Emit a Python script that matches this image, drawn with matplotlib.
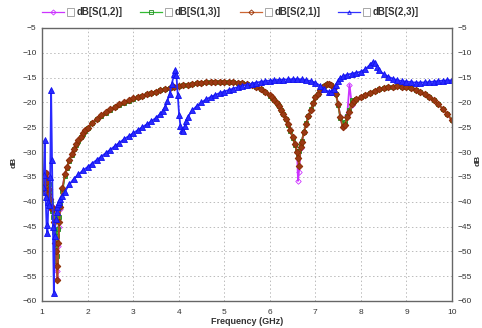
import matplotlib.pyplot as plt
from matplotlib.lines import Line2D
from matplotlib.patches import Rectangle

plt.rcParams["font.family"] = ["Liberation Sans", "DejaVu Sans"]

# sweep points shared by S(1,2), S(1,3) and S(2,1)
freq_ghz = [
    1.00, 1.02, 1.04, 1.06, 1.08, 1.10, 1.12, 1.14, 1.16, 1.18, 1.20,
    1.22, 1.24, 1.26, 1.28, 1.30, 1.32, 1.34, 1.36, 1.38, 1.40,
    1.45, 1.50, 1.55, 1.60, 1.65, 1.70, 1.75, 1.80, 1.85, 1.90, 1.95,
    2.0, 2.1, 2.2, 2.3, 2.4, 2.5, 2.6, 2.7, 2.8, 2.9, 3.0,
    3.1, 3.2, 3.3, 3.4, 3.5, 3.6, 3.7, 3.8, 3.9, 4.0,
    4.1, 4.2, 4.3, 4.4, 4.5, 4.6, 4.7, 4.8, 4.9, 5.0,
    5.1, 5.2, 5.3, 5.4, 5.5, 5.6, 5.7, 5.8, 5.9, 6.0,
    6.05, 6.10, 6.15, 6.20, 6.25, 6.30, 6.35, 6.40, 6.45, 6.50, 6.55, 6.60,
    6.62, 6.64, 6.68,
    6.70, 6.75, 6.80, 6.85, 6.90, 6.95, 7.00, 7.05, 7.10, 7.15, 7.20, 7.25,
    7.30, 7.35, 7.40, 7.45, 7.50, 7.55, 7.60, 7.65, 7.70, 7.75, 7.80, 7.85, 7.90,
    8.0, 8.1, 8.2, 8.3, 8.4, 8.5, 8.6, 8.7, 8.8, 8.9, 9.0,
    9.1, 9.2, 9.3, 9.4, 9.5, 9.6, 9.7, 9.8, 9.9, 10.0,
]

s12_db = [
    -37.0, -36.5, -35.5, -34.6, -35.0, -34.2, -38.0, -37.5, -38.8, -40.5, -41.5,
    -40.8, -42.0, -45.5, -47.5, -51.0, -54.0, -55.5, -49.0, -45.0, -41.5,
    -37.3, -34.5, -33.0, -31.6, -30.4, -29.3, -28.4, -27.6, -26.9, -26.2, -25.6,
    -25.1, -24.1, -23.3, -22.6, -22.0, -21.4, -20.9, -20.4, -20.0, -19.6, -19.2,
    -18.9, -18.6, -18.3, -18.0, -17.8, -17.5, -17.3, -17.1, -16.9, -16.7,
    -16.5, -16.4, -16.2, -16.1, -16.0, -15.9, -15.85, -15.8, -15.8, -15.8,
    -15.85, -15.9, -16.0, -16.1, -16.3, -16.5, -16.8, -17.2, -17.8, -18.5,
    -19.0, -19.5, -20.1, -20.7, -21.5, -22.3, -23.3, -24.4, -25.6, -27.0, -28.4, -30.0,
    -35.8, -34.0, -29.2,
    -28.0, -26.0, -24.3, -22.8, -21.5, -20.2, -19.0, -18.2, -17.5, -17.0, -16.6, -16.3,
    -16.2, -16.4, -17.0, -18.2, -20.3, -23.0, -25.0, -24.5, -22.5, -16.4, -20.5, -19.8, -19.4,
    -18.9, -18.4, -18.0, -17.6, -17.3, -17.1, -16.9, -16.8, -16.75, -16.8, -16.9,
    -17.1, -17.4, -17.8, -18.3, -18.9, -19.6, -20.4, -21.3, -22.4, -23.6,
]

s13_db = [
    -37.5, -36.0, -37.0, -36.2, -37.5, -38.5, -37.0, -39.0, -36.5, -38.0, -40.0,
    -41.8, -43.0, -46.0, -49.0, -52.0, -51.0, -47.0, -45.5, -43.0, -40.5,
    -37.8, -34.9, -33.2, -31.8, -30.5, -29.4, -28.5, -27.7, -27.0, -26.3, -25.7,
    -25.2, -24.2, -23.4, -22.7, -22.1, -21.5, -21.0, -20.5, -20.1, -19.7, -19.3,
    -18.9, -18.6, -18.3, -18.0, -17.8, -17.5, -17.3, -17.1, -16.9, -16.7,
    -16.5, -16.4, -16.2, -16.1, -16.0, -15.9, -15.85, -15.8, -15.8, -15.8,
    -15.85, -15.9, -16.0, -16.1, -16.3, -16.5, -16.8, -17.2, -17.8, -18.6,
    -19.1, -19.6, -20.2, -20.8, -21.6, -22.4, -23.4, -24.5, -25.7, -27.1, -28.5, -29.8,
    -30.3, -29.8, -28.6,
    -27.8, -25.9, -24.2, -22.7, -21.4, -20.1, -19.0, -18.2, -17.5, -17.0, -16.6, -16.3,
    -16.2, -16.4, -17.0, -18.3, -20.5, -23.2, -24.2, -24.0, -22.8, -21.5, -19.6, -19.7, -19.4,
    -18.9, -18.4, -18.0, -17.6, -17.3, -17.1, -16.9, -16.8, -16.75, -16.8, -16.9,
    -17.1, -17.4, -17.8, -18.3, -18.9, -19.6, -20.4, -21.3, -22.4, -23.5,
]

s21_db = [
    -36.8, -37.2, -36.5, -35.0, -34.3, -36.0, -37.8, -38.5, -37.5, -39.5, -41.2,
    -41.0, -41.5, -44.0, -48.3, -50.0, -53.0, -55.8, -48.3, -44.0, -41.0,
    -37.3, -34.5, -33.0, -31.6, -30.4, -29.3, -28.4, -27.6, -26.9, -26.2, -25.6,
    -25.1, -24.1, -23.3, -22.6, -22.0, -21.4, -20.9, -20.4, -20.0, -19.6, -19.2,
    -18.9, -18.6, -18.3, -18.0, -17.8, -17.5, -17.3, -17.1, -16.9, -16.7,
    -16.5, -16.4, -16.2, -16.1, -16.0, -15.9, -15.85, -15.8, -15.8, -15.8,
    -15.85, -15.9, -16.0, -16.1, -16.3, -16.5, -16.8, -17.2, -17.8, -18.5,
    -19.0, -19.5, -20.1, -20.7, -21.5, -22.3, -23.3, -24.4, -25.6, -27.0, -28.4, -30.0,
    -31.2, -32.8, -29.0,
    -28.0, -26.0, -24.3, -22.8, -21.5, -20.2, -19.0, -18.2, -17.5, -17.0, -16.6, -16.3,
    -16.2, -16.4, -17.0, -18.2, -20.3, -23.0, -25.0, -24.5, -23.0, -22.0, -20.3, -19.8, -19.4,
    -18.9, -18.4, -18.0, -17.6, -17.3, -17.1, -16.9, -16.8, -16.75, -16.8, -16.9,
    -17.1, -17.4, -17.8, -18.3, -18.9, -19.6, -20.4, -21.3, -22.4, -23.6,
]

# S(2,3) has its own sweep (resonance near 3.9 GHz)
freq_s23_ghz = [
    1.00, 1.02, 1.04, 1.06, 1.08, 1.10, 1.12, 1.14, 1.16, 1.18, 1.20,
    1.22, 1.24, 1.26, 1.28, 1.30, 1.32, 1.34, 1.36, 1.38, 1.40,
    1.45, 1.5, 1.6, 1.7, 1.8, 1.9, 2.0, 2.1, 2.2, 2.3, 2.4, 2.5,
    2.6, 2.7, 2.8, 2.9, 3.0, 3.1, 3.2, 3.3, 3.4, 3.5, 3.6,
    3.65, 3.70, 3.75, 3.80, 3.85, 3.90, 3.92, 3.95, 3.98, 4.01, 4.04,
    4.07, 4.10, 4.13, 4.16, 4.2, 4.3, 4.4, 4.5, 4.6, 4.7, 4.8, 4.9, 5.0,
    5.1, 5.2, 5.3, 5.4, 5.5, 5.6, 5.7, 5.8, 5.9, 6.0,
    6.1, 6.2, 6.3, 6.4, 6.5, 6.6, 6.7, 6.8, 6.9, 7.0,
    7.1, 7.2, 7.3, 7.35, 7.4, 7.45, 7.5, 7.55, 7.6, 7.7, 7.8, 7.9, 8.0,
    8.1, 8.2, 8.27, 8.3, 8.35, 8.4, 8.5, 8.6, 8.7, 8.8, 8.9, 9.0,
    9.1, 9.2, 9.3, 9.4, 9.5, 9.6, 9.7, 9.8, 9.9, 10.0,
]

s23_db = [
    -38.0, -37.0, -34.6, -27.6, -39.0, -44.7, -46.3, -40.0, -40.7, -35.0, -17.5,
    -31.6, -45.0, -58.3, -47.0, -43.5, -42.0, -41.0, -40.5, -40.0, -39.5,
    -38.8, -38.0, -36.5, -35.4, -34.5, -33.7, -33.0, -32.3, -31.6, -30.9, -30.2, -29.5,
    -28.8, -28.1, -27.4, -26.8, -26.2, -25.6, -25.0, -24.4, -23.8, -23.1, -22.3,
    -21.7, -20.9, -19.8, -18.3, -16.3, -14.2, -13.5, -14.5, -18.5, -22.5, -24.8,
    -25.6, -25.8, -24.8, -23.8, -22.9, -21.6, -20.7, -20.0, -19.4, -18.9, -18.5, -18.1, -17.8,
    -17.5, -17.2, -16.9, -16.6, -16.4, -16.2, -16.0, -15.85, -15.7, -15.6,
    -15.5, -15.45, -15.4, -15.35, -15.3, -15.3, -15.35, -15.5, -15.7, -16.0,
    -16.6, -17.3, -17.9, -17.8, -17.3, -16.5, -15.7, -15.1, -14.7, -14.4, -14.2, -14.0, -13.8,
    -13.3, -12.4, -11.8, -12.0, -12.8, -13.5, -14.3, -14.8, -15.2, -15.5, -15.7, -15.8,
    -15.9, -16.0, -16.0, -15.95, -15.9, -15.8, -15.7, -15.6, -15.55, -15.5,
]

x_ticks = [1, 2, 3, 4, 5, 6, 7, 8, 9, 10]
y_ticks = [-60, -55, -50, -45, -40, -35, -30, -25, -20, -15, -10, -5]

series = [
    ("dB[S(1,2)]", freq_ghz, s12_db,
     dict(color="#CC33FF", marker="D", ms=2.8, mfc="none", mec="#CC33FF")),
    ("dB[S(1,3)]", freq_ghz, s13_db,
     dict(color="#33BB33", marker="s", ms=3.2, mfc="#33BB33", mec="#228822")),
    ("dB[S(2,1)]", freq_ghz, s21_db,
     dict(color="#B04A20", marker="D", ms=3.4, mfc="#9A3A14", mec="#8B2A00")),
    ("dB[S(2,3)]", freq_s23_ghz, s23_db,
     dict(color="#2A2AFF", marker="^", ms=3.8, mfc="#2A2AFF", mec="#1010EE")),
]
legend_line_colors = ["#CC33FF", "#33BB33", "#CC6633", "#3333FF"]

W, H = 482, 328
fig = plt.figure(figsize=(W / 100, H / 100), dpi=100)
ax = fig.add_axes([42 / W, 1 - 301 / H, 410 / W, 273 / H])

for name, xs, ys, st in series:
    ax.plot(xs, ys, lw=1.3, mew=0.6, **st)

ax.set_xlim(1, 10)
ax.set_ylim(-60, -5)
ax.set_xticks(x_ticks)
ax.set_yticks(y_ticks)
ax.grid(True, color="#BBBBBB", linestyle=(0, (1.5, 2.5)), linewidth=0.7)
ax.set_axisbelow(True)
for side in ax.spines.values():
    side.set_color("#666666")
    side.set_linewidth(1.0)
ax.tick_params(axis="both", length=0, labelsize=6, colors="#333333")
ax.tick_params(axis="x", pad=6)
ax.tick_params(axis="y", pad=4, labelright=True)

fig.text(247 / W, 1 - 322 / H, "Frequency (GHz)", ha="center", va="center",
         fontsize=6.5, fontweight="bold", color="#333333")
fig.text(14 / W, 1 - 162 / H, "dB", ha="center", va="center", rotation=90,
         fontsize=6, fontweight="bold", color="#333333")
fig.text(478 / W, 1 - 160 / H, "dB", ha="center", va="center", rotation=90,
         fontsize=6, fontweight="bold", color="#333333")

# legend row along the top: sample line, checkbox, name
legend_x = [42, 140, 240, 338]
ly = 1 - 12 / H
for (name, xs, ys, st), x0, lc in zip(series, legend_x, legend_line_colors):
    fig.add_artist(Line2D([x0 / W, (x0 + 22) / W], [ly, ly], lw=0.9,
                          color=lc, transform=fig.transFigure))
    fig.add_artist(Line2D([(x0 + 11) / W], [ly], marker=st["marker"],
                          ms=2.6, mfc="none", mec=st["mec"], mew=0.6,
                          transform=fig.transFigure))
    fig.add_artist(Rectangle(((x0 + 25) / W, ly - 4 / H), 7 / W, 8 / H,
                             facecolor="white", edgecolor="#999999", lw=0.6,
                             transform=fig.transFigure))
    fig.text((x0 + 35) / W, ly, name, ha="left", va="center", fontsize=7,
             fontweight="bold", color="#333333")

fig.savefig("out.png", dpi=100)
